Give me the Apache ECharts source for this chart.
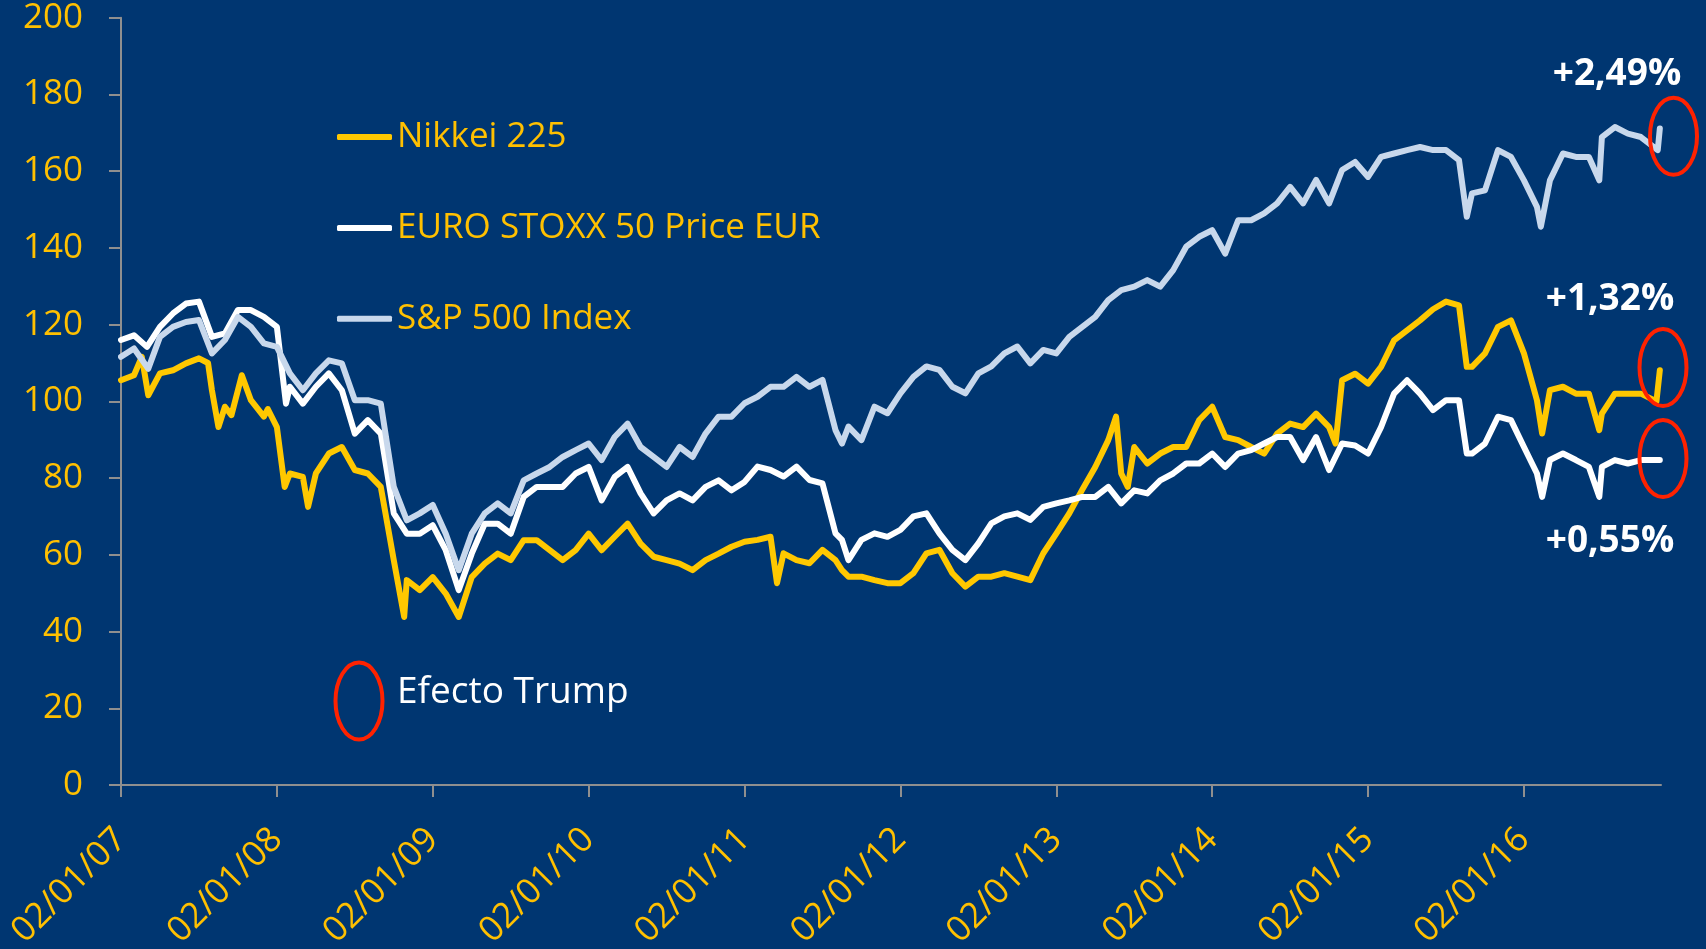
<!DOCTYPE html>
<html>
<head>
<meta charset="utf-8">
<script src="https://cdn.jsdelivr.net/npm/echarts@6/dist/echarts.min.js"></script>
<style>
html,body{margin:0;padding:0;background:#003671;}
#c{width:1706px;height:949px;}
</style>
</head>
<body>
<div id="c"></div>
<script>
// x values are months elapsed since 02/01/2007
const tickYears = ['07','08','09','10','11','12','13','14','15','16'];
const seriesNames = ['Nikkei 225', 'EURO STOXX 50 Price EUR', 'S&P 500 Index'];

const nikkeiMonths = [0,1,1.6,2.1,3,4,5,6,6.7,7,7.5,8,8.5,9.3,10,11,11.3,12,12.6,13,14,14.4,15,16,17,18,19,20,21,21.8,22,23,24,25,26,27,28,29,30,31,32,33,34,35,36,37,38,39,40,41,42,43,44,45,46,47,48,49,50,50.5,51,52,53,54,55,55.5,56,57,58,59,60,61,62,63,64,65,66,67,68,69,70,71,72,73,74,75,76,76.6,77,77.5,78,79,80,81,82,83,84,85,86,87,88,89,90,91,92,93,93.5,94,95,96,97,98,99,100,101,102,103,103.6,104,105,106,107,108,109,109.4,110,111,112,113,113.8,114,115,116,117,118.2,118.46];
const nikkeiValues = [105.5,106.8,111.6,101.6,107.3,108.1,109.9,111.2,110,102.9,93.3,98.6,96.4,106.8,100.3,96,98,93.3,77.7,81.2,80.3,72.5,81.2,86.4,88.1,82.1,81.2,77.7,58.6,43.8,53.4,50.8,54.2,49.9,43.8,54.2,57.7,60.3,58.6,63.8,63.8,61.2,58.6,61.2,65.5,61.2,64.7,68.1,62.9,59.5,58.6,57.7,56,58.6,60.3,62.1,63.4,63.9,64.7,52.6,60.4,58.6,57.8,61.3,58.6,56,54.3,54.3,53.4,52.6,52.6,55.2,60.4,61.3,55.2,51.7,54.3,54.3,55.2,54.3,53.4,60.4,65.5,70.8,77,82.9,89.9,96,81.2,77.7,88.1,83.8,86.4,88.1,88.1,95.1,98.6,90.7,89.9,88.1,86.4,91.6,94.2,93.3,96.8,93.3,89,105.5,107.2,104.6,109,115.9,118.5,121.1,124,126,125,109,109,112.5,119.4,121.1,112.5,100.3,91.6,102.9,103.8,102,102,92.5,96.8,102,102,102,100,108.1];

const euroMonths = [0,1,2,3,4,5,6,7,8,9,10,11,12,12.7,13,14,15,16,17,18,19,20,21,22,23,24,25,26,27,28,29,30,31,32,33,34,35,36,37,38,39,40,41,42,43,44,45,46,47,48,49,50,51,52,53,54,55,55.5,56,57,58,59,60,61,62,63,64,65,66,67,68,69,70,71,72,73,74,75,76,77,78,79,80,81,82,83,84,85,86,87,88,89,90,91,92,93,94,95,96,97,98,99,100,101,102,103,103.6,104,105,106,107,108,109,109.4,110,111,112,113,113.8,114,115,116,117,118.46];
const euroValues = [116,117.2,114.2,119.4,122.9,125.5,126,116.8,117.7,123.8,123.8,122,119.4,99.4,103.8,99.4,103.8,107.3,102.9,91.6,95.1,91.6,70.8,65.5,65.5,67.7,61.2,50.8,60.3,68.1,68.1,65.5,75.1,77.7,77.7,77.7,81.2,82.9,74.2,80.3,82.9,76,70.8,74.2,76,74.2,77.7,79.4,76.8,79,83,82.1,80.4,83,79.5,78.6,65.6,63.9,58.6,63.9,65.6,64.7,66.5,70,70.8,65.6,61.3,58.6,63,68.2,70,70.8,69.1,72.5,73.4,74.2,75.1,75.1,77.7,73.4,76.8,76,79.4,81.2,83.8,83.8,86.4,82.9,86.4,87.3,89,90.7,90.7,84.7,90.7,82.1,89,88.5,86.4,93.3,102,105.5,102,97.7,100.3,100.3,86.4,86.4,89,96,95.1,88.1,81.2,75.1,84.7,86.4,84.7,82.9,75.1,82.9,84.7,83.8,84.7,84.7];

const spxMonths = [0,1,2.1,3,4,5,6,7,8,9,10,11,12,13,14,15,16,17,18,19,20,21,22,23,24,25,26,27,28,29,30,31,32,33,34,35,36,37,38,39,40,41,42,43,44,45,46,47,48,49,50,51,52,53,54,55,55.5,56,57,58,59,60,61,62,63,64,65,66,67,68,69,70,71,72,73,74,75,76,77,78,79,80,81,82,83,84,85,86,87,88,89,90,91,92,93,94,95,96,97,98,99,100,101,102,103,103.6,104,105,106,107,108,109,109.3,110,111,112,113,113.8,114,115,116,117,118.3,118.46];
const spxValues = [111.6,113.8,108.5,116.8,119.4,120.7,121.2,112.5,116,122,119.4,115.1,114.2,107.3,102.9,107.3,110.7,109.9,100.3,100.3,99.4,77.7,69,70.8,73,65.5,56,65.5,70.8,73.4,70.8,79.4,81.2,82.9,85.5,87.3,89,84.7,90.7,94.2,88.1,85.5,82.9,88.1,85.5,91.6,96,96,99.5,101.2,103.8,103.8,106.4,103.8,105.6,92.5,89,93.4,89.9,98.6,96.9,102.1,106.4,109.1,108.2,103.8,102.1,107.3,109.1,112.5,114.3,109.9,113.4,112.5,116.8,119.4,122,126.4,129,129.9,131.6,129.9,134.2,140.3,142.9,144.6,138.5,147.2,147.2,149,151.6,155.9,151.6,157.7,151.6,160.3,162.4,158.5,163.7,164.6,165.5,166.3,165.5,165.5,162.9,148.1,154.2,155,165.5,163.7,157.6,150.7,145.5,157.6,164.6,163.7,163.7,157.6,168.9,171.5,169.8,168.9,165.5,171.1];

const tickMonths = [0,12,24,36,48,60,72,84,96,108];

function pairs(xs, ys){ return xs.map((x,i)=>[x, ys[i]]); }

const FONT = '"Open Sans", "Noto Sans", sans-serif';
const GOLD = '#FFC000';
const AXIS = '#8f8f8f';
const RED = '#FF2200';

const chart = echarts.init(document.getElementById('c'), null, {renderer:'canvas'});
const option = {
  backgroundColor: '#003671',
  animation: false,
  grid: {left: 121, top: 17.7, right: 45, bottom: 164, containLabel: false, outerBoundsMode: 'none'},
  legend: {
    orient: 'vertical', left: 337, top: 117, padding: 0,
    itemWidth: 55, itemHeight: 6, itemGap: 50.9,
    icon: 'roundRect',
    selectedMode: false,
    textStyle: {color: GOLD, fontSize: 35, fontFamily: FONT, lineHeight: 40},
    data: seriesNames
  },
  xAxis: {
    type: 'value', min: 0, max: 118.55,
    axisLine: {lineStyle: {color: AXIS, width: 2}},
    axisTick: {show: true, length: 12, lineStyle: {color: AXIS, width: 2}, customValues: tickMonths},
    splitLine: {show: false},
    axisLabel: {
      customValues: tickMonths,
      rotate: 45, margin: 49, color: GOLD, fontSize: 35, fontFamily: FONT,
      formatter: v => '02/01/' + tickYears[Math.round(v/12)]
    }
  },
  yAxis: {
    type: 'value', min: 0, max: 200, interval: 20,
    axisLine: {show: true, lineStyle: {color: AXIS, width: 2}},
    axisTick: {show: true, length: 12, lineStyle: {color: AXIS, width: 2}},
    splitLine: {show: false},
    axisLabel: {margin: 38, color: GOLD, fontSize: 35, fontFamily: FONT}
  },
  series: [
    {name: seriesNames[0], type: 'line', data: pairs(nikkeiMonths, nikkeiValues), symbol: 'none', z: 2,
     lineStyle: {color: '#FFC800', width: 6, cap: 'round', join: 'round'}, itemStyle: {color: '#FFC800'}},
    {name: seriesNames[1], type: 'line', data: pairs(euroMonths, euroValues), symbol: 'none', z: 3,
     lineStyle: {color: '#FFFFFF', width: 6, cap: 'round', join: 'round'}, itemStyle: {color: '#FFFFFF'}},
    {name: seriesNames[2], type: 'line', data: pairs(spxMonths, spxValues), symbol: 'none', z: 4,
     lineStyle: {color: '#C8D8EC', width: 6, cap: 'round', join: 'round'}, itemStyle: {color: '#C8D8EC'}}
  ],
  graphic: [
    {type: 'ellipse', shape: {cx: 359, cy: 701, rx: 23.5, ry: 38.5}, style: {fill: 'none', stroke: RED, lineWidth: 4}, z: 10},
    {type: 'text', x: 397, y: 692, style: {text: 'Efecto Trump', fill: '#FFFFFF', font: '37px ' + FONT, verticalAlign: 'middle'}, z: 10},
    {type: 'ellipse', shape: {cx: 1673.5, cy: 136.3, rx: 23.5, ry: 38.5}, style: {fill: 'none', stroke: RED, lineWidth: 4}, z: 10},
    {type: 'ellipse', shape: {cx: 1663, cy: 367.5, rx: 23.5, ry: 38.5}, style: {fill: 'none', stroke: RED, lineWidth: 4}, z: 10},
    {type: 'ellipse', shape: {cx: 1663, cy: 458.5, rx: 23.5, ry: 38.5}, style: {fill: 'none', stroke: RED, lineWidth: 4}, z: 10},
    {type: 'text', x: 1617, y: 74, style: {text: '+2,49%', fill: '#FFFFFF', font: 'bold 37px ' + FONT, align: 'center', verticalAlign: 'middle'}, z: 10},
    {type: 'text', x: 1610, y: 299, style: {text: '+1,32%', fill: '#FFFFFF', font: 'bold 37px ' + FONT, align: 'center', verticalAlign: 'middle'}, z: 10},
    {type: 'text', x: 1610, y: 541, style: {text: '+0,55%', fill: '#FFFFFF', font: 'bold 37px ' + FONT, align: 'center', verticalAlign: 'middle'}, z: 10}
  ]
};
chart.setOption(option);
</script>
</body>
</html>
